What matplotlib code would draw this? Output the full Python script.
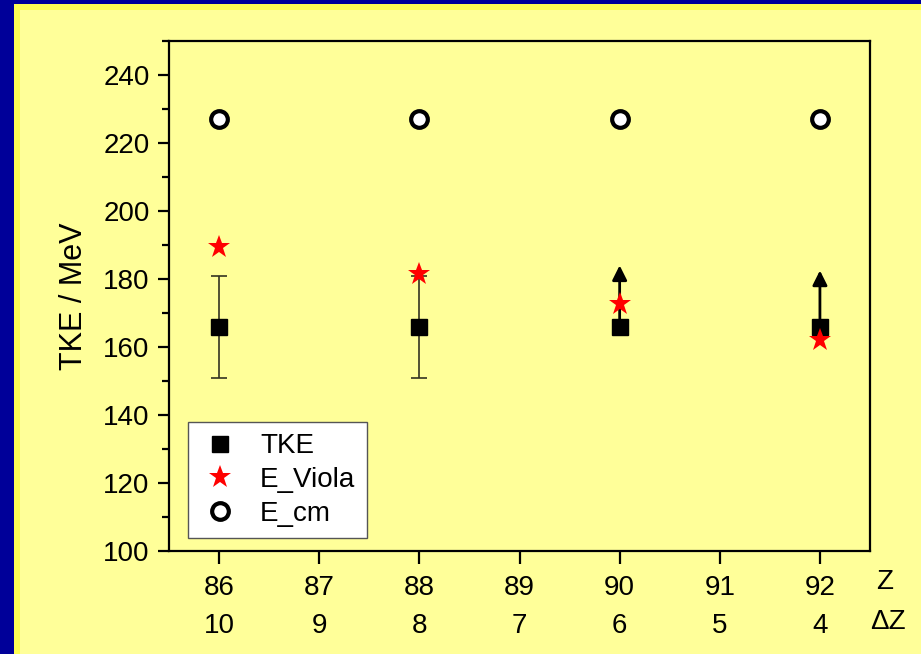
import matplotlib
matplotlib.use("Agg")
import matplotlib.pyplot as plt
from matplotlib.patches import Rectangle
from matplotlib.ticker import MultipleLocator

plt.rcParams['font.family'] = ['Liberation Sans', 'DejaVu Sans']

Z = [86, 87, 88, 89, 90, 91, 92]
dZ = [10, 9, 8, 7, 6, 5, 4]
z_pts = [86, 88, 90, 92]
tke = [166, 166, 166, 166]
tke_err = [15, 15, 0, 0]
tke_arrow_top = [None, None, 184, 182.5]
e_viola = [189.5, 181.5, 172.5, 162]
e_cm = [227, 227, 227, 227]

W, H = 921, 654
fig = plt.figure(figsize=(W / 100, H / 100), dpi=100, facecolor='#000099')
fig.patches.append(Rectangle((14 / W, 0), 1, (H - 4) / H, transform=fig.transFigure,
                             facecolor='#ffff55', edgecolor='none', zorder=-2))
fig.patches.append(Rectangle((20 / W, 0), 1, (H - 10) / H, transform=fig.transFigure,
                             facecolor='#ffff99', edgecolor='none', zorder=-1))

ax = fig.add_axes([169 / W, (H - 551) / H, (870 - 169) / W, (551 - 41) / H])
ax.set_facecolor('#ffff99')
ax.set_xlim(85.5, 92.5)
ax.set_ylim(100, 250)

# error bars
ex = [z for z, e in zip(z_pts, tke_err) if e > 0]
ey = [t for t, e in zip(tke, tke_err) if e > 0]
ee = [e for e in tke_err if e > 0]
ax.errorbar(ex, ey, yerr=ee, fmt='none', ecolor='#333322', elinewidth=1.2,
            capsize=6, capthick=1.2, zorder=2)

# arrows
for z, t, top in zip(z_pts, tke, tke_arrow_top):
    if top is not None:
        ax.annotate('', xy=(z, top), xytext=(z, t),
                    arrowprops=dict(arrowstyle='-|>', mutation_scale=22, lw=2,
                                    color='k', shrinkA=0, shrinkB=0), zorder=2)

ax.plot(z_pts, tke, 's', color='k', markersize=11, linestyle='none', label='TKE', zorder=3)
ax.plot(z_pts, e_viola, '*', color='red', markersize=17, markeredgewidth=0,
        linestyle='none', label='E_Viola', zorder=4)
ax.plot(z_pts, e_cm, 'o', markerfacecolor='white', markeredgecolor='k',
        markersize=12, markeredgewidth=3, linestyle='none', label='E_cm', zorder=3)

for s in ax.spines.values():
    s.set_linewidth(1.6)

ax.yaxis.set_major_locator(MultipleLocator(20))
ax.yaxis.set_minor_locator(MultipleLocator(10))
ax.set_xticks(Z)
ax.set_xticklabels([f"{a}\n{b}" for a, b in zip(Z, dZ)], linespacing=1.6)
ax.tick_params(axis='both', which='major', direction='out', length=8, width=1.6,
               labelsize=20, pad=6)
ax.tick_params(axis='x', which='major', length=9, pad=8)
ax.tick_params(axis='y', which='minor', direction='out', length=5, width=1.6)
ax.tick_params(top=False, right=False)

ax.set_ylabel('TKE / MeV', fontsize=22, labelpad=10)

fig.text(885 / W, 1 - 582 / H, 'Z', fontsize=20, ha='center', va='center')
fig.text(888 / W, 1 - 622 / H, 'ΔZ', fontsize=20, ha='center', va='center')

leg = ax.legend(loc='lower left', bbox_to_anchor=((188 - 169) / (870 - 169), (551 - 538) / (551 - 41)),
                fontsize=20, frameon=True, fancybox=False, framealpha=1,
                edgecolor='#555555', borderpad=0.4, handletextpad=0.7, labelspacing=0.28,
                borderaxespad=0, handlelength=1.5)
leg.get_frame().set_linewidth(1.0)

fig.savefig('out.png', dpi=100, facecolor=fig.get_facecolor())
